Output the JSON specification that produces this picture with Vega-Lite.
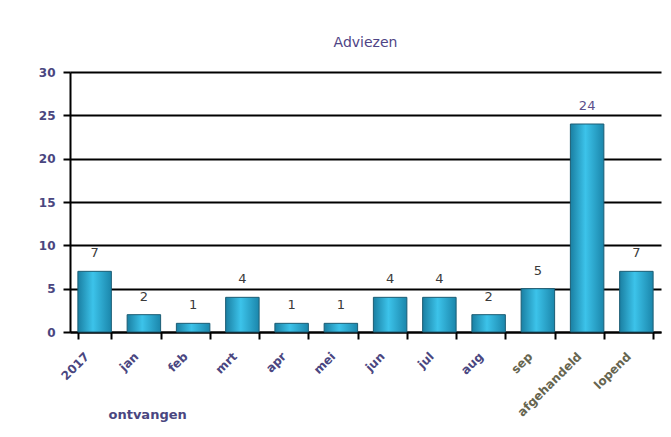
{
  "$schema": "https://vega.github.io/schema/vega-lite/v6.json",
  "autosize": "none",
  "width": 591,
  "height": 260,
  "padding": {"left": 70, "top": 72, "right": 10, "bottom": 105},
  "background": "white",
  "config": {
    "font": "DejaVu Sans",
    "view": {"stroke": null}
  },
  "title": {
    "text": "Adviezen",
    "fontSize": 14,
    "fontWeight": "normal",
    "color": "#4f4485",
    "anchor": "middle",
    "offset": 16
  },
  "data": {
    "values": [
      {"maand": "2017", "aantal": 7},
      {"maand": "jan", "aantal": 2},
      {"maand": "feb", "aantal": 1},
      {"maand": "mrt", "aantal": 4},
      {"maand": "apr", "aantal": 1},
      {"maand": "mei", "aantal": 1},
      {"maand": "jun", "aantal": 4},
      {"maand": "jul", "aantal": 4},
      {"maand": "aug", "aantal": 2},
      {"maand": "sep", "aantal": 5},
      {"maand": "afgehandeld", "aantal": 24},
      {"maand": "lopend", "aantal": 7}
    ]
  },
  "encoding": {
    "x": {
      "field": "maand",
      "type": "nominal",
      "sort": null,
      "scale": {"paddingInner": 0.32, "paddingOuter": 0.16},
      "axis": {
        "title": "ontvangen",
        "titleAnchor": "start",
        "titleAlign": "left",
        "titleBaseline": "alphabetic",
        "titleX": 38,
        "titleY": 86,
        "titleFontSize": 13,
        "titleFontWeight": "bold",
        "titleColor": "#4a4680",
        "labelAngle": -45,
        "labelAlign": "right",
        "labelBaseline": "middle",
        "labelFontSize": 12,
        "labelFontWeight": "bold",
        "labelPadding": 15,
        "labelOffset": -8,
        "labelColor": {
          "condition": {"test": "datum.value === 'sep' || datum.value === 'afgehandeld' || datum.value === 'lopend'", "value": "#66654f"},
          "value": "#4a4680"
        },
        "domainColor": "black",
        "domainWidth": 2,
        "tickColor": "black",
        "tickWidth": 2,
        "tickSize": 7,
        "tickBand": "extent",
        "grid": false
      }
    },
    "y": {
      "field": "aantal",
      "type": "quantitative",
      "scale": {"domain": [0, 30]},
      "axis": {
        "title": null,
        "values": [0, 5, 10, 15, 20, 25, 30],
        "labelFontSize": 12,
        "labelFontWeight": "bold",
        "labelColor": "#4a4680",
        "labelPadding": 8,
        "domainColor": "black",
        "domainWidth": 2,
        "tickColor": "black",
        "tickWidth": 2,
        "tickSize": 7,
        "grid": true,
        "gridColor": "black",
        "gridWidth": 2,
        "gridOpacity": 1
      }
    }
  },
  "layer": [
    {
      "mark": {
        "type": "bar",
        "stroke": "#1c5d74",
        "strokeWidth": 1,
        "fill": {
          "gradient": "linear",
          "x1": 0, "y1": 0, "x2": 1, "y2": 0,
          "stops": [
            {"offset": 0, "color": "#1a7fa2"},
            {"offset": 0.45, "color": "#3cc3ea"},
            {"offset": 1, "color": "#1b86ab"}
          ]
        }
      }
    },
    {
      "mark": {"type": "text", "baseline": "bottom", "dy": -11, "fontSize": 13, "fontWeight": "normal"},
      "encoding": {
        "text": {"field": "aantal", "type": "quantitative"},
        "color": {
          "condition": {"test": "datum.aantal === 24", "value": "#5b4f8c"},
          "value": "#3a3a3a"
        }
      }
    }
  ]
}
